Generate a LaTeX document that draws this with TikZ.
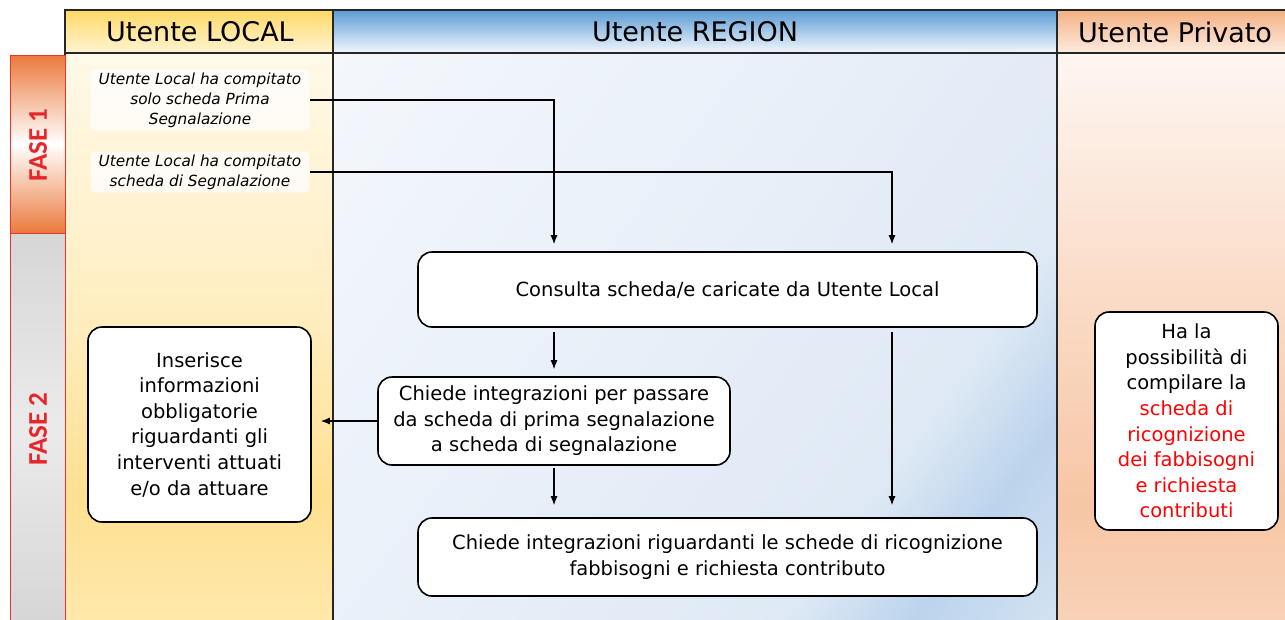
\documentclass[tikz,border=0pt]{standalone}
\usepackage{fontspec}
\setmainfont{DejaVu Sans}
\newfontfamily\fasefont{Carlito}
\usetikzlibrary{arrows.meta,calc}

\definecolor{lhtop}{HTML}{FFD966}
\definecolor{lhbot}{HTML}{FFF4D2}
\definecolor{rhtop}{HTML}{5B9BD5}
\definecolor{rhbot}{HTML}{F3F8FD}
\definecolor{phtop}{HTML}{F4B183}
\definecolor{phbot}{HTML}{FDEBE0}
\definecolor{ltop}{HTML}{FFF9E8}
\definecolor{lmid}{HTML}{FFEDBE}
\definecolor{ldeep}{HTML}{FFE091}
\definecolor{lbot}{HTML}{FFE8AA}
\definecolor{ptop}{HTML}{FEF6F2}
\definecolor{pmid}{HTML}{FADDC9}
\definecolor{pdeep}{HTML}{F6C6A5}
\definecolor{pbot}{HTML}{F8D2B7}
\definecolor{rone}{HTML}{F6F9FD}
\definecolor{rtwo}{HTML}{DFE9F5}
\definecolor{rthree}{HTML}{BBD4EC}
\definecolor{rfour}{HTML}{D6E4F3}
\definecolor{faseorange}{HTML}{EA7A3C}
\definecolor{fasegrey}{HTML}{D6D6D6}
\definecolor{faseline}{HTML}{F0302A}
\definecolor{fasetext}{HTML}{E8262A}

\pgfdeclareverticalshading{localsh}{100bp}{color(0bp)=(lbot); color(25bp)=(lbot); color(36bp)=(ldeep); color(51bp)=(lmid); color(75bp)=(ltop); color(100bp)=(ltop)}
\pgfdeclareverticalshading{privsh}{100bp}{color(0bp)=(pbot); color(25bp)=(pbot); color(35bp)=(pdeep); color(55bp)=(pmid); color(75bp)=(ptop); color(100bp)=(ptop)}
\pgfdeclarehorizontalshading{regsh}{100bp}{color(0bp)=(rone); color(10bp)=(rone); color(68bp)=(rtwo); color(76bp)=(rthree); color(86bp)=(rfour); color(100bp)=(rfour)}

\tikzset{
  lane/.style={draw=black!85, line width=1.4pt},
  phasebox/.style={draw=faseline, line width=1pt},
  headtext/.style={font=\fontsize{27}{30}\selectfont},
  fasetxt/.style={font=\fasefont\bfseries\fontsize{27}{30}\selectfont, text=fasetext, rotate=90},
  glow/.style={fill=white, fill opacity=0.75, text opacity=1, align=center, inner xsep=8pt, inner ysep=3pt,
    rounded corners=4pt, font=\itshape\fontsize{15.3}{20}\selectfont},
  flowbox/.style={draw=black, line width=1.6pt, rounded corners=14pt, fill=white, align=center,
    font=\fontsize{19.5}{25.6}\selectfont},
  conn/.style={line width=1.1pt, -{Latex[length=9pt,width=7pt]}},
}

\begin{document}
\begin{tikzpicture}[x=1pt,y=-1pt]
\useasboundingbox (0,0) rectangle (1285,619);
\fill[white] (0,0) rectangle (1285,619);

% lane bodies
\shade[shading=localsh] (65,53) rectangle (333,620);
\shade[shading=regsh, shading angle=-36] (333,53) rectangle (1057,620);
\shade[shading=privsh] (1057,53) rectangle (1290,620);

% headers
\shade[top color=lhtop, bottom color=lhbot] (65,10) rectangle (333,53);
\shade[top color=rhtop, bottom color=rhbot] (333,10) rectangle (1057,53);
\shade[top color=phtop, bottom color=phbot] (1057,10) rectangle (1290,53);
\draw[lane] (65,620) -- (65,10) -- (1290,10);
\draw[lane] (65,53) -- (1290,53);
\draw[lane] (333,10) -- (333,620);
\draw[lane] (1057,10) -- (1057,620);

\node[headtext] (hlocal) at (200,32) {Utente LOCAL};
\node[headtext] (hregion) at (695,32) {Utente REGION};
\node[headtext] (hpriv) at (1175,32) {Utente Privato};

% phases
\shade[top color=faseorange, bottom color=faseorange, middle color=white] (10,55) rectangle (65,233);
\draw[phasebox] (10,55) rectangle (65,233);
\shade[top color=fasegrey, bottom color=fasegrey, middle color=white!92!black] (10,233) rectangle (65,622);
\draw[phasebox] (10,622) -- (10,233) -- (65,233) -- (65,622);
\node[fasetxt] (f1) at (38,145) {FASE 1};
\node[fasetxt] (f2) at (38,429) {FASE 2};

% texts
\node[glow] (t1) at (200,100) {Utente Local ha compitato\\solo scheda Prima\\Segnalazione};
\node[glow] (t2) at (200,172) {Utente Local ha compitato\\scheda di Segnalazione};

% boxes
\node[flowbox, minimum width=619pt, minimum height=75pt] (consulta) at (727.5,289.5) {Consulta scheda/e caricate da Utente Local};
\node[flowbox, minimum width=352pt, minimum height=88pt] (chiede1) at (554,421) {Chiede integrazioni per passare\\da scheda di prima segnalazione\\a scheda di segnalazione};
\node[flowbox, minimum width=619pt, minimum height=78pt] (chiede2) at (727.5,557) {Chiede integrazioni riguardanti le schede di ricognizione\\fabbisogni e richiesta contributo};
\node[flowbox, minimum width=223pt, minimum height=195pt] (inser) at (199.5,424.5) {Inserisce\\informazioni\\obbligatorie\\riguardanti gli\\interventi attuati\\e/o da attuare};
\node[flowbox, minimum width=183pt, minimum height=218pt] (priv) at (1186.5,421) {Ha la\\possibilità di\\compilare la\\\textcolor{red}{scheda di}\\\textcolor{red}{ricognizione}\\\textcolor{red}{dei fabbisogni}\\\textcolor{red}{e richiesta}\\\textcolor{red}{contributi}};

\coordinate (rx) at (892,0);

% connectors
\draw[conn, shorten >=7pt] (t1.east) -| (chiede1.north |- consulta.north);
\draw[conn, shorten >=7pt] (t2.east) -| (rx |- consulta.north);
\draw[conn, shorten <=4pt, shorten >=7pt] (chiede1.north |- consulta.south) -- (chiede1.north);
\draw[conn, shorten >=9pt] (chiede1.west) -- (chiede1.west -| inser.east);
\draw[conn, shorten <=2pt, shorten >=12pt] (chiede1.south) -- (chiede1.south |- chiede2.north);
\draw[conn, shorten <=4pt, shorten >=12pt] (rx |- consulta.south) -- (rx |- chiede2.north);
\end{tikzpicture}
\end{document}
